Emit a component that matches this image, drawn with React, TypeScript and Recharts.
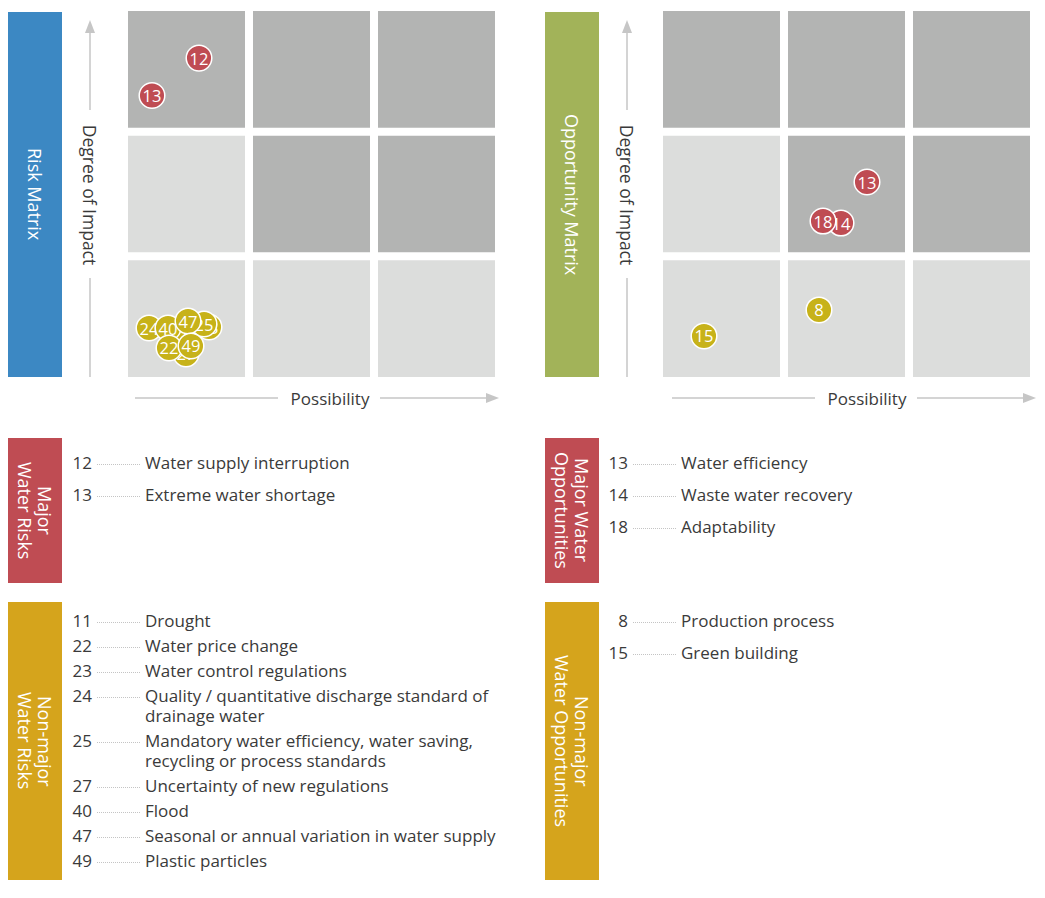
import * as React from 'react'
import { ScatterChart, Scatter, XAxis, YAxis, ReferenceArea } from 'recharts'

// bubble positions are in grid units: 0..3 on both axes (col / row from bottom)
const riskMajorIds = [12, 13]
const riskMajorX = [0.6, 0.224]
const riskMajorY = [2.59, 2.29]

const riskMinorIds = [27, 11, 23, 24, 25, 40, 22, 47, 49]
const riskMinorX = [0.496, 0.448, 0.68, 0.2, 0.64, 0.352, 0.36, 0.512, 0.536]
const riskMinorY = [0.217, 0.361, 0.433, 0.425, 0.457, 0.425, 0.265, 0.481, 0.281]

const oppMajorIds = [13, 14, 18]
const oppMajorX = [1.664, 1.456, 1.312]
const oppMajorY = [1.596, 1.267, 1.283]

const oppMinorIds = [8, 15]
const oppMinorX = [1.28, 0.36]
const oppMinorY = [0.57, 0.361]

const riskMajorLabels = ['Water supply interruption', 'Extreme water shortage']
const riskMinorLabels = [
  'Drought',
  'Water price change',
  'Water control regulations',
  'Quality / quantitative discharge standard of\ndrainage water',
  'Mandatory water efficiency, water saving,\nrecycling or process standards',
  'Uncertainty of new regulations',
  'Flood',
  'Seasonal or annual variation in water supply',
  'Plastic particles',
]
const riskMinorListIds = [11, 22, 23, 24, 25, 27, 40, 47, 49]

const oppMajorListIds = [13, 14, 18]
const oppMajorLabels = ['Water efficiency', 'Waste water recovery', 'Adaptability']
const oppMinorListIds = [8, 15]
const oppMinorLabels = ['Production process', 'Green building']

const FONT = '"Open Sans", "Noto Sans", sans-serif'
const RED = '#bf4c53'
const YELLOW = '#c7b219'
const DARK = '#b3b4b3'
const LIGHT = '#dcdddc'
const TEXT = '#3a3a3a'

// shade of each grid cell, rows listed from top
const shade = [
  [DARK, DARK, DARK],
  [LIGHT, DARK, DARK],
  [LIGHT, LIGHT, LIGHT],
]

const toPoints = (ids: number[], xs: number[], ys: number[]) =>
  ids.map((id, i) => ({ id, x: xs[i], y: ys[i] }))

const Bubble = (props: any) => {
  const { cx, cy, payload, fill } = props
  if (cx == null || cy == null) return null
  return (
    <g>
      <circle cx={cx} cy={cy} r={12.8} fill={fill} stroke="#fff" strokeWidth={1.5} />
      <text
        x={cx}
        y={cy}
        textAnchor="middle"
        dominantBaseline="central"
        fill="#fff"
        fontSize={16.5}
        fontFamily={FONT}
      >
        {payload.id}
      </text>
    </g>
  )
}

function Matrix({ major, minor, width }: { major: any[]; minor: any[]; width: number }) {
  const cells: React.ReactNode[] = []
  shade.forEach((row, r) => {
    row.forEach((color, c) => {
      const y = 2 - r
      cells.push(
        <ReferenceArea
          key={`${r}-${c}`}
          x1={c + 0.032}
          x2={c + 0.968}
          y1={y + 0.032}
          y2={y + 0.968}
          fill={color}
          fillOpacity={1}
          stroke="none"
        />
      )
    })
  })
  return (
    <ScatterChart width={width} height={390} margin={{ top: 7, right: width - 499, bottom: 9, left: 124 }}>
      <XAxis type="number" dataKey="x" domain={[0, 3]} hide />
      <YAxis type="number" dataKey="y" domain={[0, 3]} hide />
      {cells}
      <Scatter data={minor} fill={YELLOW} shape={(p: any) => <Bubble {...p} fill={YELLOW} />} isAnimationActive={false} />
      <Scatter data={major} fill={RED} shape={(p: any) => <Bubble {...p} fill={RED} />} isAnimationActive={false} />
    </ScatterChart>
  )
}

function Axes({ x0 }: { x0: number }) {
  const vx = x0 + 90
  return (
    <g stroke="#c6c6c6" strokeWidth={1.5}>
      <line x1={vx} y1={30} x2={vx} y2={110} />
      <path d={`M${vx - 5},33 L${vx},20 L${vx + 5},33 Z`} fill="#c6c6c6" stroke="none" />
      <line x1={vx} y1={278} x2={vx} y2={377} />
      <text
        transform={`translate(${vx},195) rotate(90)`}
        textAnchor="middle"
        dominantBaseline="central"
        fontSize={17.5}
        fontFamily={FONT}
        fill={TEXT}
        stroke="none"
      >
        Degree of Impact
      </text>
      <line x1={x0 + 135} y1={398} x2={x0 + 278} y2={398} />
      <line x1={x0 + 380} y1={398} x2={x0 + 488} y2={398} />
      <path d={`M${x0 + 486},393 L${x0 + 499},398 L${x0 + 486},403 Z`} fill="#c6c6c6" stroke="none" />
      <text
        x={x0 + 330}
        y={398}
        textAnchor="middle"
        dominantBaseline="central"
        fontSize={17}
        fontFamily={FONT}
        fill={TEXT}
        stroke="none"
      >
        Possibility
      </text>
    </g>
  )
}

function SideBox({ left, top, height, color, text }: { left: number; top: number; height: number; color: string; text: string }) {
  return (
    <div
      style={{
        position: 'absolute',
        left,
        top,
        width: 54,
        height,
        background: color,
        display: 'flex',
        alignItems: 'center',
        justifyContent: 'center',
      }}
    >
      <div
        style={{
          writingMode: 'vertical-rl',
          color: '#fff',
          fontSize: 18,
          lineHeight: '20px',
          textAlign: 'center',
          whiteSpace: 'pre-line',
        }}
      >
        {text}
      </div>
    </div>
  )
}

function List({ left, top, ids, labels, gap }: { left: number; top: number; ids: number[]; labels: string[]; gap: number }) {
  return (
    <div style={{ position: 'absolute', left, top, color: TEXT, fontSize: 17, lineHeight: '20px' }}>
      {ids.map((id, i) => (
        <div key={id} style={{ display: 'flex', alignItems: 'flex-start', marginBottom: gap }}>
          <div style={{ width: 32, textAlign: 'right' }}>{id}</div>
          <div style={{ width: 43, margin: '11px 5px 0 5px', borderTop: '1px dotted #c4c4c4' }} />
          <div style={{ whiteSpace: 'pre-line' }}>{labels[i]}</div>
        </div>
      ))}
    </div>
  )
}

export default function App() {
  return (
    <div style={{ position: 'absolute', left: 0, top: 0, width: 1045, height: 898, background: '#fff', fontFamily: FONT }}>
      <SideBox left={8} top={12} height={365} color="#3c88c3" text="Risk Matrix" />
      <SideBox left={545} top={12} height={365} color="#a2b359" text="Opportunity Matrix" />
      <SideBox left={8} top={438} height={145} color={RED} text={'Major\nWater Risks'} />
      <SideBox left={545} top={438} height={145} color={RED} text={'Major Water\nOpportunities'} />
      <SideBox left={8} top={602} height={278} color="#d5a41c" text={'Non-major\nWater Risks'} />
      <SideBox left={545} top={602} height={278} color="#d5a41c" text={'Non-major\nWater Opportunities'} />

      <div style={{ position: 'absolute', left: 0, top: 0 }}>
        <Matrix
          width={520}
          major={toPoints(riskMajorIds, riskMajorX, riskMajorY)}
          minor={toPoints(riskMinorIds, riskMinorX, riskMinorY)}
        />
      </div>
      <div style={{ position: 'absolute', left: 535, top: 0 }}>
        <Matrix
          width={510}
          major={toPoints(oppMajorIds, oppMajorX, oppMajorY)}
          minor={toPoints(oppMinorIds, oppMinorX, oppMinorY)}
        />
      </div>

      <svg width={1045} height={420} style={{ position: 'absolute', left: 0, top: 0, pointerEvents: 'none' }}>
        <Axes x0={0} />
        <Axes x0={537} />
      </svg>

      <List left={60} top={453} ids={riskMajorIds} labels={riskMajorLabels} gap={12} />
      <List left={60} top={611} ids={riskMinorListIds} labels={riskMinorLabels} gap={5} />
      <List left={596} top={453} ids={oppMajorListIds} labels={oppMajorLabels} gap={12} />
      <List left={596} top={611} ids={oppMinorListIds} labels={oppMinorLabels} gap={12} />
    </div>
  )
}
